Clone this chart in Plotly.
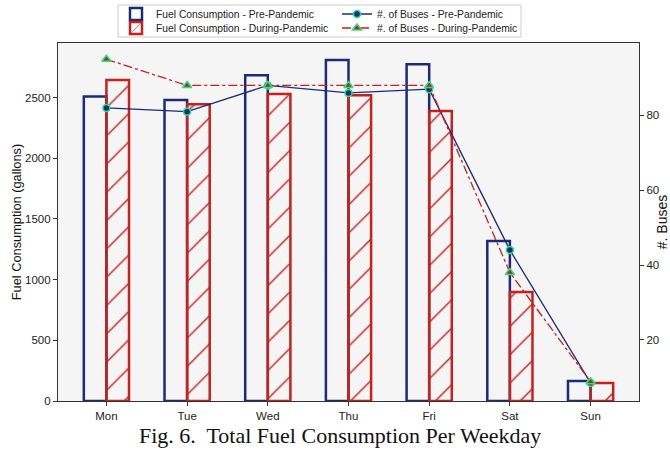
import plotly.graph_objects as go

days = ["Mon", "Tue", "Wed", "Thu", "Fri", "Sat", "Sun"]
fuel_pre = [2510, 2480, 2685, 2810, 2775, 1318, 165]
fuel_during = [2645, 2445, 2530, 2520, 2390, 898, 148]
buses_pre = [82, 81, 88, 86, 87, 44, 8.5]
buses_during = [95, 88, 88, 88, 88, 38, 8.8]

NAVY = "#1c2a7a"
RED = "#c8201a"
GREEN = "#22e38a"

fig = go.Figure()
fig.add_trace(go.Bar(
    x=days, y=fuel_pre, name="Fuel Consumption - Pre-Pandemic",
    marker=dict(color="rgba(0,0,0,0)", line=dict(color=NAVY, width=2.5)),
    legend="legend", offsetgroup="a"))
fig.add_trace(go.Bar(
    x=days, y=fuel_during, name="Fuel Consumption - During-Pandemic",
    marker=dict(color="rgba(0,0,0,0)", line=dict(color=RED, width=2.5),
                pattern=dict(shape="/", fgcolor=RED, fgopacity=1, bgcolor="rgba(0,0,0,0)",
                             size=20, solidity=0.07)),
    legend="legend3", offsetgroup="b"))
fig.add_trace(go.Scatter(
    x=days, y=buses_pre, name="#. of Buses - Pre-Pandemic", yaxis="y2",
    mode="lines+markers", line=dict(color=NAVY, width=1.3),
    marker=dict(symbol="circle", size=7, color=NAVY, line=dict(color=GREEN, width=1.5)),
    legend="legend2"))
fig.add_trace(go.Scatter(
    x=days, y=buses_during, name="#. of Buses - During-Pandemic", yaxis="y2",
    mode="lines+markers", line=dict(color=RED, width=1.3, dash="dashdot"),
    marker=dict(symbol="triangle-up", size=8, color=RED, line=dict(color=GREEN, width=1.5)),
    legend="legend4"))

axis_common = dict(showline=True, linecolor="#333333", linewidth=1.2,
                   ticks="outside", ticklen=4, tickcolor="#333333",
                   showgrid=False, zeroline=False,
                   tickfont=dict(family="Liberation Sans", size=11.5, color="#222"))

W, H = 670, 451
L, R, T, B = 58, 639, 43, 401


def px_x(x):
    return (x - L) / (R - L)


def px_y(y):
    return (B - y) / (B - T)


def leg(x, y):
    return dict(x=px_x(x), y=px_y(y), xanchor="left", yanchor="middle", orientation="v",
                bgcolor="rgba(0,0,0,0)", borderwidth=0, itemwidth=30,
                font=dict(family="Liberation Sans", size=10.3, color="#222"))


fig.update_layout(
    width=W, height=H,
    margin=dict(l=L, r=W - R, t=T, b=H - B, autoexpand=False),
    plot_bgcolor="#f5f5f5", paper_bgcolor="white",
    barmode="group", bargap=0.44, bargroupgap=0,
    xaxis=dict(range=[-0.6, 6.6], mirror=True, **axis_common),
    yaxis=dict(range=[0, 2950], tickvals=[0, 500, 1000, 1500, 2000, 2500],
               title=dict(text="Fuel Consumption (gallons)", standoff=0,
                          font=dict(family="Liberation Sans", size=12.8, color="#111")),
               mirror=True, **axis_common),
    yaxis2=dict(overlaying="y", side="right", range=[3.65, 99.35],
                tickvals=[20, 40, 60, 80],
                title=dict(text="#. Buses", standoff=33,
                           font=dict(family="Liberation Sans", size=14, color="#111")),
                **axis_common),
    legend=leg(116, 14),
    legend3=leg(116, 28),
    legend2=leg(337, 14),
    legend4=leg(337, 28),
    showlegend=True,
    shapes=[dict(type="rect", xref="paper", yref="paper",
                 x0=px_x(118), x1=px_x(521), y0=px_y(37), y1=px_y(5),
                 line=dict(color="#cccccc", width=1), fillcolor="rgba(255,255,255,0.8)",
                 layer="below")],
    annotations=[dict(text="Fig. 6.  Total Fuel Consumption Per Weekday",
                      xref="paper", yref="paper", x=px_x(339.5), y=px_y(435),
                      xanchor="center", yanchor="middle", showarrow=False,
                      font=dict(family="Liberation Serif", size=22, color="#111"))],
)

fig.write_html("out.html", post_script="document.body.style.margin='0';",
               config={"displayModeBar": False})
